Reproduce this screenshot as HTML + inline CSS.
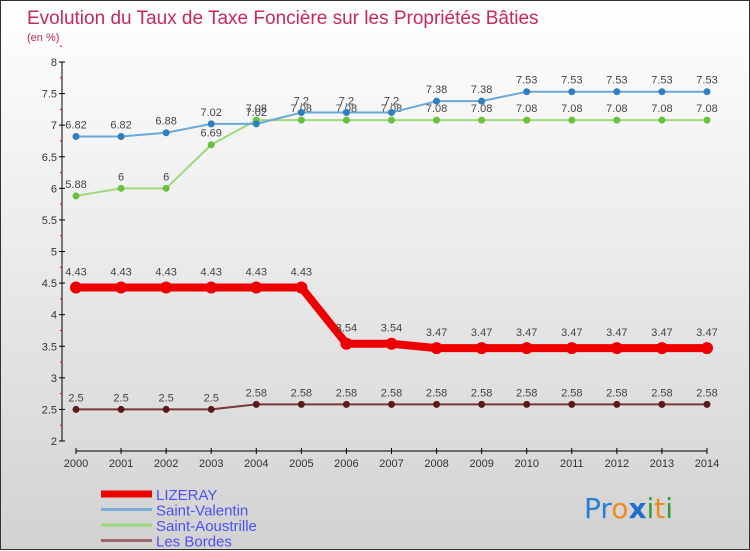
<!DOCTYPE html>
<html><head><meta charset="utf-8"><style>
body{margin:0;width:750px;height:550px;overflow:hidden;font-family:"Liberation Sans",sans-serif}
#wrap{position:relative;width:748px;height:548px;border:1px solid #333;background:linear-gradient(#ffffff,#f2f2f2 30%,#d2d2d2)}
svg{position:absolute;left:0;top:0}
</style></head><body>
<div id="wrap">
<svg id="chart" width="750" height="550">
<text x="26" y="23" font-size="19" fill="#c8285e">Evolution du Taux de Taxe Foncière sur les Propriétés Bâties</text>
<text x="26" y="40" font-size="11" fill="#c8285e">(en %)</text>
<g id="axes"></g><g id="series"></g><g id="legend"></g>
<text x="583" y="517" font-size="28" font-family="DejaVu Sans"><tspan fill="#2a7fd0">Pr</tspan><tspan fill="#f08a1c">o</tspan><tspan fill="#1f6fd0" font-weight="bold">x</tspan><tspan fill="#3a9a3a">i</tspan><tspan fill="#f08a1c">t</tspan><tspan fill="#3a9a3a">i</tspan></text>
</svg></div>
<script>
const years=[2000,2001,2002,2003,2004,2005,2006,2007,2008,2009,2010,2011,2012,2013,2014];
const yTicks=[2,2.5,3,3.5,4,4.5,5,5.5,6,6.5,7,7.5,8];
const lizeray=[4.43,4.43,4.43,4.43,4.43,4.43,3.54,3.54,3.47,3.47,3.47,3.47,3.47,3.47,3.47];
const valentin=[6.82,6.82,6.88,7.02,7.02,7.2,7.2,7.2,7.38,7.38,7.53,7.53,7.53,7.53,7.53];
const aoustrille=[5.88,6,6,6.69,7.08,7.08,7.08,7.08,7.08,7.08,7.08,7.08,7.08,7.08,7.08];
const bordes=[2.5,2.5,2.5,2.5,2.58,2.58,2.58,2.58,2.58,2.58,2.58,2.58,2.58,2.58,2.58];
const NS="http://www.w3.org/2000/svg";
const X=i=>75+i*(706-75)/(years.length-1);
const Y=v=>440-(v-2)*(440-61)/6;
function mk(t,a,p){const e=document.createElementNS(NS,t);for(const k in a)e.setAttribute(k,a[k]);p.appendChild(e);return e;}
const ax=document.getElementById('axes');
let e=mk('line',{x1:61,y1:61,x2:61,y2:440,stroke:'#000'},ax);


yTicks.forEach(v=>{
 mk('line',{x1:58,x2:64,y1:Y(v),y2:Y(v),stroke:'#000'},ax);
 mk('line',{x1:59,x2:61,y1:Y(v+0.25),y2:Y(v+0.25),stroke:'#e00'},ax);
 const t=mk('text',{x:56,y:Y(v)+4,'font-size':11,'text-anchor':'end',fill:'#333'},ax);t.textContent=v;
 
 
});
e=mk('line',{x1:75,y1:450,x2:706,y2:450,stroke:'#000'},ax);


years.forEach((y,i)=>{
 mk('line',{x1:X(i),x2:X(i),y1:447,y2:453,stroke:'#000'},ax);
 const t=mk('text',{x:X(i),y:466,'font-size':11,'text-anchor':'middle',fill:'#333'},ax);t.textContent=y;
 
 
});
const sg=document.getElementById('series');
function series(d,name,col,w,r,dot,lblOff){
 const g=mk('g',{},sg);
 
 
 const l=mk('polyline',{points:d.map((v,i)=>X(i)+','+Y(v)).join(' '),fill:'none',stroke:col,'stroke-width':w,'stroke-linejoin':'round'},g);
 
 
 d.forEach((v,i)=>{
  const c=mk('circle',{cx:X(i),cy:Y(v),r:r,fill:dot},g);
  
  
  const t=mk('text',{x:X(i),y:Y(v)+lblOff,'font-size':11,'text-anchor':'middle',fill:'#444'},g);t.textContent=v;
  
  
 });
}
series(aoustrille,'saint-aoustrille','#a0d880',2,3.5,'#6cc040',-8);
series(valentin,'saint-valentin','#6aa8d8',2,3.5,'#2f7ec0',-8);
series(bordes,'les-bordes','#7a3838',2,3.5,'#5a1a1a',-8);
series(lizeray,'lizeray','#ee0000',8,6,'#ee0000',-12);
const lg=document.getElementById('legend');
[['LIZERAY','#ee0000',7],['Saint-Valentin','#7ab0d8',3],['Saint-Aoustrille','#9ad87a',3],['Les Bordes','#9a6a6a',3]].forEach((s,i)=>{
 const y=493+i*15.5;
 const l=mk('line',{x1:100,x2:151,y1:y,y2:y,stroke:s[1],'stroke-width':s[2]},lg);
 
 
 const t=mk('text',{x:155,y:y+6,'font-size':15,fill:'#5050f0'},lg);t.textContent=s[0];
 
 
});
</script>
</body></html>
